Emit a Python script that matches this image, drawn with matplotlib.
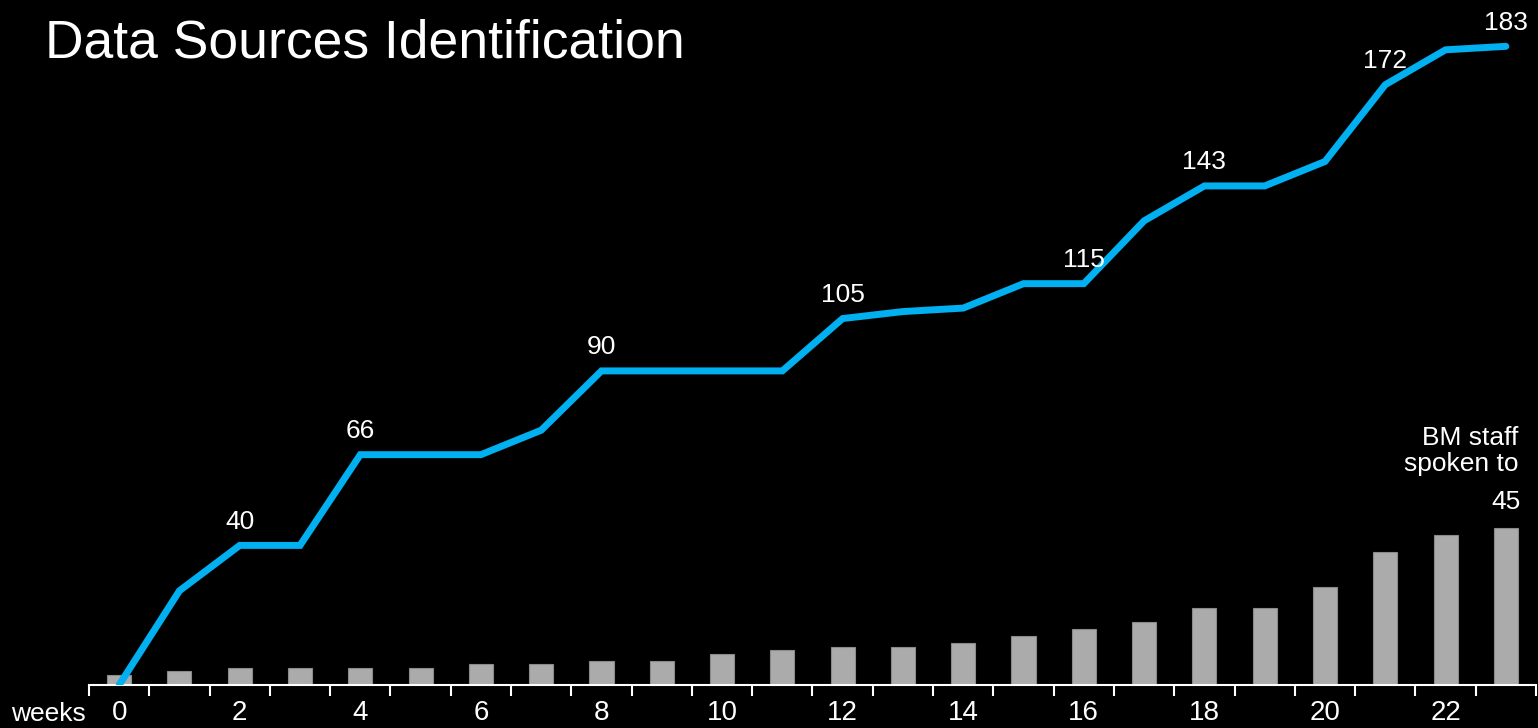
import matplotlib
matplotlib.use("Agg")
import matplotlib.pyplot as plt
import numpy as np

weeks = list(range(24))
sources = [0, 27, 40, 40, 66, 66, 66, 73, 90, 90, 90, 90, 105, 107, 108, 115, 115, 133, 143, 143, 150, 172, 182, 183]
staff = [3, 4, 5, 5, 5, 5, 6, 6, 7, 7, 9, 10, 11, 11, 12, 14, 16, 18, 22, 22, 28, 38, 43, 45]
labelled_weeks = [2, 4, 8, 12, 16, 18, 21, 23]
tick_labels = [str(w) for w in range(0, 24, 2)]

plt.rcParams['font.family'] = ['Liberation Sans', 'DejaVu Sans']

W, H = 1538, 728
fig = plt.figure(figsize=(W / 100, H / 100), dpi=100, facecolor='black')
left, right, bottom, top_px = 89, 1536, 685, 20
ax = fig.add_axes([left / W, 1 - bottom / H, (right - left) / W, (bottom - top_px) / H])
ax.set_facecolor('black')

px_per_unit = 3.49
ax.set_ylim(0, (bottom - top_px) / px_per_unit)
ax.set_xlim(-0.5, 23.5)

ax.bar(weeks, staff, width=0.4, color='#ABABAB', edgecolor='#8A8A8A', linewidth=0.8, zorder=2)
ax.plot(weeks, sources, color='#00B0F0', linewidth=5, solid_capstyle='round', solid_joinstyle='miter', zorder=3)

for w in labelled_weeks:
    ax.annotate(str(sources[w]), (w, sources[w]), xytext=(0, 17), textcoords='offset points',
                ha='center', va='center', color='white', fontsize=19)

ax.annotate(str(staff[-1]), (23, staff[-1]), xytext=(0, 19), textcoords='offset points',
            ha='center', va='center', color='white', fontsize=19)
ax.text(1518 / W, 1 - 451 / H, 'BM staff\nspoken to', transform=fig.transFigure,
        ha='right', va='center', color='white', fontsize=19, linespacing=1.15)

for s in ['top', 'right', 'left']:
    ax.spines[s].set_visible(False)
ax.spines['bottom'].set_color('white')
ax.spines['bottom'].set_linewidth(1.5)
ax.set_yticks([])

ax.set_xticks(list(range(0, 24, 2)))
ax.set_xticklabels(tick_labels)
ax.tick_params(axis='x', which='major', length=0, colors='white', labelsize=20, pad=11)
ax.set_xticks(np.arange(-0.5, 24, 1), minor=True)
ax.tick_params(axis='x', which='minor', length=8, width=1.5, color='white', direction='out')

fig.text(86 / W, 1 - 721 / H, 'weeks', color='white', fontsize=19, ha='right', va='baseline')
fig.text(45 / W, 1 - 43 / H, 'Data Sources Identification', color='white', fontsize=38.5,
         ha='left', va='center')

fig.savefig('out.png', dpi=100, facecolor='black')
